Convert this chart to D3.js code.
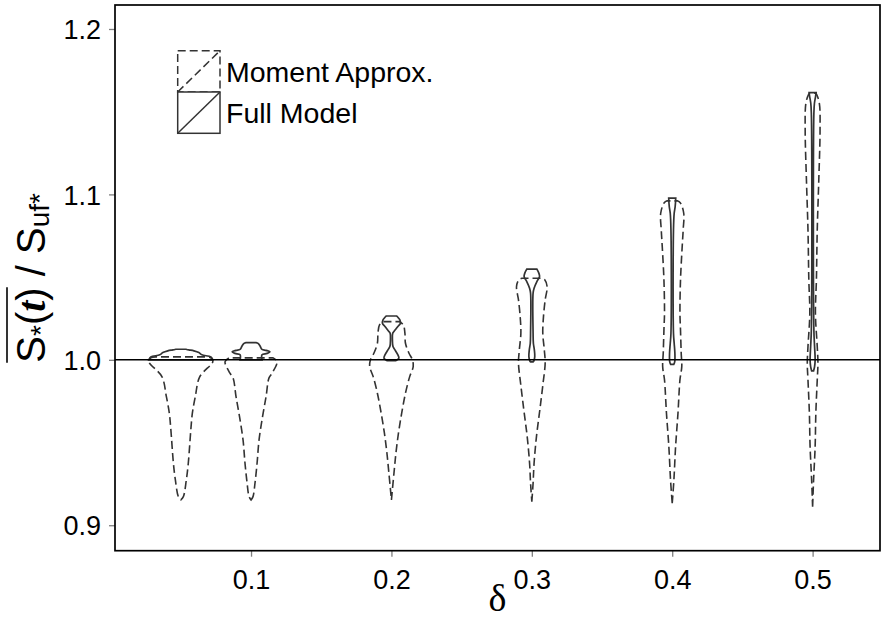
<!DOCTYPE html>
<html><head><meta charset="utf-8">
<script src="https://cdn.jsdelivr.net/npm/d3@7"></script>
<style>body{margin:0;background:#fff}svg{display:block}</style>
</head><body>
<svg id="chart" width="885" height="619"></svg>
<script>
// ---- data ----
const deltas = [0.05, 0.1, 0.2, 0.3, 0.4, 0.5];
const xTicks = [0.1, 0.2, 0.3, 0.4, 0.5];
const yTicks = [0.9, 1.0, 1.1, 1.2];
const seriesNames = ["Moment Approx.", "Full Model"];
// violin profiles: [value, half-width in delta units], one array per delta
const momentApprox = [
  [[0.91529,0],[0.91729,0.0018],[0.92739,0.0039],[0.93748,0.0053],[0.95762,0.0071],[0.96771,0.0082],[0.97775,0.0103],[0.98984,0.0135],[0.99891,0.0228],[1.00115,0.0214],[1.0018,0.018]],
  [[0.91529,0],[0.91729,0.0014],[0.92539,0.0028],[0.93748,0.0043],[0.95157,0.0057],[0.96566,0.0082],[0.97775,0.0107],[0.98906,0.0128],[0.9919,0.0150],[0.99891,0.0185],[1.00115,0.0157]],
  [[0.91529,0],[0.93144,0.0018],[0.94353,0.0032],[0.95562,0.0050],[0.96771,0.0073],[0.97981,0.0100],[0.98984,0.0130],[0.99589,0.0155],[0.99994,0.0150],[1.004,0.0125],[1.010,0.0100],[1.0161,0.0096],[1.0211,0.0085],[1.0231,0.0057]],
  [[0.91427,0],[0.92539,0.0009],[0.93748,0.0016],[0.95357,0.0033],[0.96971,0.0057],[0.98585,0.0080],[0.99794,0.0095],[1.006,0.0089],[1.0161,0.0078],[1.0261,0.0083],[1.0362,0.0095],[1.0443,0.0109],[1.0483,0.0093],[1.0493,0.0071]],
  [[0.9133,0],[0.92739,0.0012],[0.94752,0.0024],[0.96771,0.0041],[0.98785,0.0055],[0.99589,0.0068],[1.004,0.0064],[1.0181,0.0059],[1.0282,0.0055],[1.0483,0.0059],[1.0684,0.0071],[1.0785,0.0078],[1.0886,0.0082],[1.095,0.0057],[1.0961,0.0036]],
  [[0.91125,0],[0.92739,0.0007],[0.94752,0.0018],[0.96771,0.0023],[0.98785,0.0033],[0.99794,0.0038],[1.008,0.0033],[1.0282,0.0020],[1.0483,0.0027],[1.0785,0.0033],[1.1088,0.0044],[1.139,0.0053],[1.1551,0.0048],[1.1602,0.0030],[1.1612,0.0021]]
];
const fullModel = [
  [[1.0,0.0228],[1.00175,0.0214],[1.003,0.0150],[1.00435,0.0128],[1.0054,0.0093],[1.006,0.0057],[1.0064,0.0036]],
  [[1.0,0.0078],[1.003,0.0078],[1.0039,0.0114],[1.0048,0.0135],[1.0057,0.0107],[1.0063,0.0078],[1.0084,0.0064],[1.0099,0.0050],[1.0104,0.0036]],
  [[0.9995,0.0030],[1.001,0.0053],[1.003,0.0046],[1.006,0.0025],[1.008,0.0011],[1.012,0.0007],[1.0161,0.0009],[1.0171,0.0018],[1.0201,0.0046],[1.0221,0.0064],[1.0241,0.0060],[1.0253,0.0050],[1.0265,0.0036]],
  [[0.9987,0.0007],[0.9993,0.0014],[1.0019,0.0021],[1.006,0.0018],[1.010,0.0011],[1.0161,0.0009],[1.0403,0.0009],[1.0433,0.0016],[1.0473,0.0036],[1.0503,0.0055],[1.0524,0.0050],[1.0548,0.0036]],
  [[0.99722,0.0011],[0.99891,0.0018],[1.004,0.0019],[1.010,0.0014],[1.0161,0.0009],[1.0785,0.0009],[1.0886,0.0014],[1.0926,0.0021],[1.0977,0.0025]],
  [[0.99334,0.0007],[0.99589,0.0014],[0.99994,0.0018],[1.008,0.0014],[1.0181,0.0009],[1.1491,0.0009],[1.1551,0.0013],[1.1591,0.0021],[1.1615,0.0025]]
];
const refValue = 1.0;

// ---- layout ----
const svg = d3.select("#chart");
const P = {left:115, right:880, top:5, bottom:550.7};
const x = d3.scaleLinear().domain([0.0031, 0.548]).range([P.left, P.right]);
const y = d3.scaleLinear().domain([0.8846, 1.2145]).range([P.bottom, P.top]);
const ink = "#333333";
const sans = "'Liberation Sans', Arial, Helvetica, sans-serif";
const dashPat = "8,4";

const area = (d0) => d3.area()
  .x0(d => x(d0 - d[1])).x1(d => x(d0 + d[1]))
  .y(d => y(d[0]))
  .curve(d3.curveCatmullRom.alpha(0.5));

const plot = svg.append("g");
momentApprox.forEach((prof, i) => {
  plot.append("path").attr("d", area(deltas[i])(prof))
    .attr("fill", "none").attr("stroke", ink).attr("stroke-width", 1.6)
    .attr("stroke-dasharray", dashPat);
});
fullModel.forEach((prof, i) => {
  plot.append("path").attr("d", area(deltas[i])(prof))
    .attr("fill", "none").attr("stroke", ink).attr("stroke-width", 1.7);
});
// reference line
plot.append("line").attr("x1", P.left).attr("x2", P.right)
  .attr("y1", y(refValue)).attr("y2", y(refValue))
  .attr("stroke", "#000").attr("stroke-width", 1.6);

// axes
const xAxis = d3.axisBottom(x).tickValues(xTicks).tickFormat(d3.format(".1f")).tickSize(6).tickPadding(7);
const yAxis = d3.axisLeft(y).tickValues(yTicks).tickFormat(d3.format(".1f")).tickSize(6).tickPadding(8);
const gx = svg.append("g").attr("transform", `translate(0,${P.bottom})`).call(xAxis);
const gy = svg.append("g").attr("transform", `translate(${P.left},0)`).call(yAxis);
[gx, gy].forEach(g => {
  g.select(".domain").remove();
  g.selectAll(".tick line").attr("stroke", "#7f7f7f").attr("stroke-width", 1.3);
  g.selectAll(".tick text").attr("fill", "#000").style("font-family", sans).style("font-size", "27px");
});
gy.selectAll(".tick text").attr("dy", "0.36em");
gx.selectAll(".tick text").attr("dy", "0.95em");

// frame
svg.append("rect").attr("x", P.left).attr("y", P.top)
  .attr("width", P.right - P.left).attr("height", P.bottom - P.top)
  .attr("fill", "none").attr("stroke", "#000").attr("stroke-width", 1.7);

// x label
svg.append("text").attr("x", (P.left + P.right) / 2).attr("y", 611)
  .attr("text-anchor", "middle")
  .style("font-family", "'Liberation Serif', 'DejaVu Serif', serif").style("font-size", "38px")
  .text("δ");

// y label
const yl = svg.append("g").attr("transform", `translate(45,${(P.top + P.bottom) / 2}) rotate(-90)`);
const partA = yl.append("text").style("font-family", sans).style("font-size", "40px");
partA.append("tspan").text("S");
partA.append("tspan").attr("dy", 5).style("font-size", "28px").text("*");
partA.append("tspan").attr("dy", -5).text("(");
partA.append("tspan").style("font-family", "'Liberation Serif', serif").style("font-weight", "bold").style("font-style", "italic").text("t");
partA.append("tspan").text(")");
const partB = yl.append("text").style("font-family", sans).style("font-size", "40px");
partB.append("tspan").text("\u00a0/\u00a0S");
partB.append("tspan").attr("dy", 4).style("font-size", "28px").text("uf*");
const wA = partA.node().getComputedTextLength();
const wB = partB.node().getComputedTextLength();
const start = -(wA + wB) / 2;
partA.attr("x", start);
partA.selectAll("tspan").filter((d, i) => i === 0).attr("x", start);
partB.attr("x", start + wA);
partB.selectAll("tspan").filter((d, i) => i === 0).attr("x", start + wA);
yl.append("line").attr("x1", start).attr("x2", start + wA)
  .attr("y1", -38).attr("y2", -38).attr("stroke", "#000").attr("stroke-width", 1.6);

// legend
const keyX = 177.7, keyW = 42.3, keyH = 41.3, keyY0 = 50.7;
const lg = svg.append("g");
seriesNames.forEach((name, i) => {
  const ky = keyY0 + i * keyH;
  const dash = i === 0 ? dashPat : null;
  lg.append("rect").attr("x", keyX).attr("y", ky).attr("width", keyW).attr("height", keyH)
    .attr("fill", "#fff").attr("stroke", ink).attr("stroke-width", 1.5).attr("stroke-dasharray", dash);
  lg.append("line").attr("x1", keyX).attr("y1", ky + keyH).attr("x2", keyX + keyW).attr("y2", ky)
    .attr("stroke", ink).attr("stroke-width", 1.5).attr("stroke-dasharray", dash);
  lg.append("text").attr("x", keyX + keyW + 6).attr("y", ky + keyH / 2).attr("dy", "0.36em")
    .style("font-family", sans).style("font-size", "28.5px").attr("fill", "#000").text(name);
});
</script>
</body></html>
